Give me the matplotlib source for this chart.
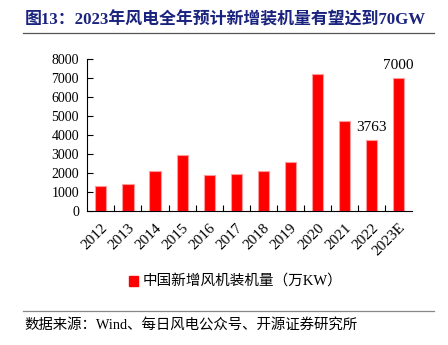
import matplotlib
matplotlib.use("Agg")
import matplotlib.pyplot as plt
from matplotlib.lines import Line2D

plt.rcParams['font.family'] = ['Liberation Serif', 'Noto Sans CJK SC']

years = ["2012", "2013", "2014", "2015", "2016", "2017", "2018", "2019",
         "2020", "2021", "2022", "2023E"]
added = [1300, 1430, 2100, 2960, 1900, 1970, 2110, 2580, 7200, 4760, 3763, 7000]
labelled = {10: "3763", 11: "7000"}
yticks = [0, 1000, 2000, 3000, 4000, 5000, 6000, 7000, 8000]

title = "图13：2023年风电全年预计新增装机量有望达到70GW"
legend_label = "中国新增风机装机量（万KW）"
source = "数据来源：Wind、每日风电公众号、开源证券研究所"

fig = plt.figure(figsize=(4.48, 3.45), dpi=100)
ax = fig.add_axes([0.195, 0.388, 0.725, 0.441])

x = range(len(years))
ax.bar(x, added, width=0.41, color="#FF0000", edgecolor="#FF9A9A", linewidth=0.8)
for i, txt in labelled.items():
    ax.annotate(txt, (i, added[i]), xytext=(0, 4), textcoords="offset points",
                ha="center", va="bottom", fontsize=11)

ax.set_xlim(-0.5, len(years) - 0.5)
ax.set_ylim(0, 8000)
ax.set_yticks(yticks)
ax.set_yticklabels([str(v) for v in yticks], fontsize=10)
ax.set_xticks([i + 0.5 for i in range(len(years) - 1)], minor=False)
ax.set_xticklabels([])
ax.set_xticks(list(x), minor=True)
ax.set_xticklabels(years, minor=True, rotation=45, ha="right",
                   rotation_mode="anchor", fontsize=11)
ax.tick_params(axis="x", which="minor", length=0, pad=7)
ax.tick_params(axis="x", which="major", direction="in", length=4, width=0.8)
ax.tick_params(axis="y", direction="in", length=4, width=0.8, pad=6)
for s in ["top", "right"]:
    ax.spines[s].set_visible(False)
for s in ["left", "bottom"]:
    ax.spines[s].set_linewidth(0.8)

fig.text(0.055, 0.942, title, fontsize=12.2, fontweight="bold", color="#1A237E",
         va="center", ha="left")
fig.add_artist(Line2D([0.052, 0.968], [0.905, 0.905], color="#555555", lw=0.9))

fig.patches.append(plt.Rectangle((0.287, 0.171), 0.022, 0.03, color="#FF0000",
                                 transform=fig.transFigure, figure=fig))
fig.text(0.318, 0.186, legend_label, fontsize=10.5, va="center", ha="left")

fig.add_artist(Line2D([0.052, 0.968], [0.098, 0.098], color="#888888", lw=0.9))
fig.text(0.055, 0.058, source, fontsize=10.4, va="center", ha="left")

fig.savefig("out.png", dpi=100)
